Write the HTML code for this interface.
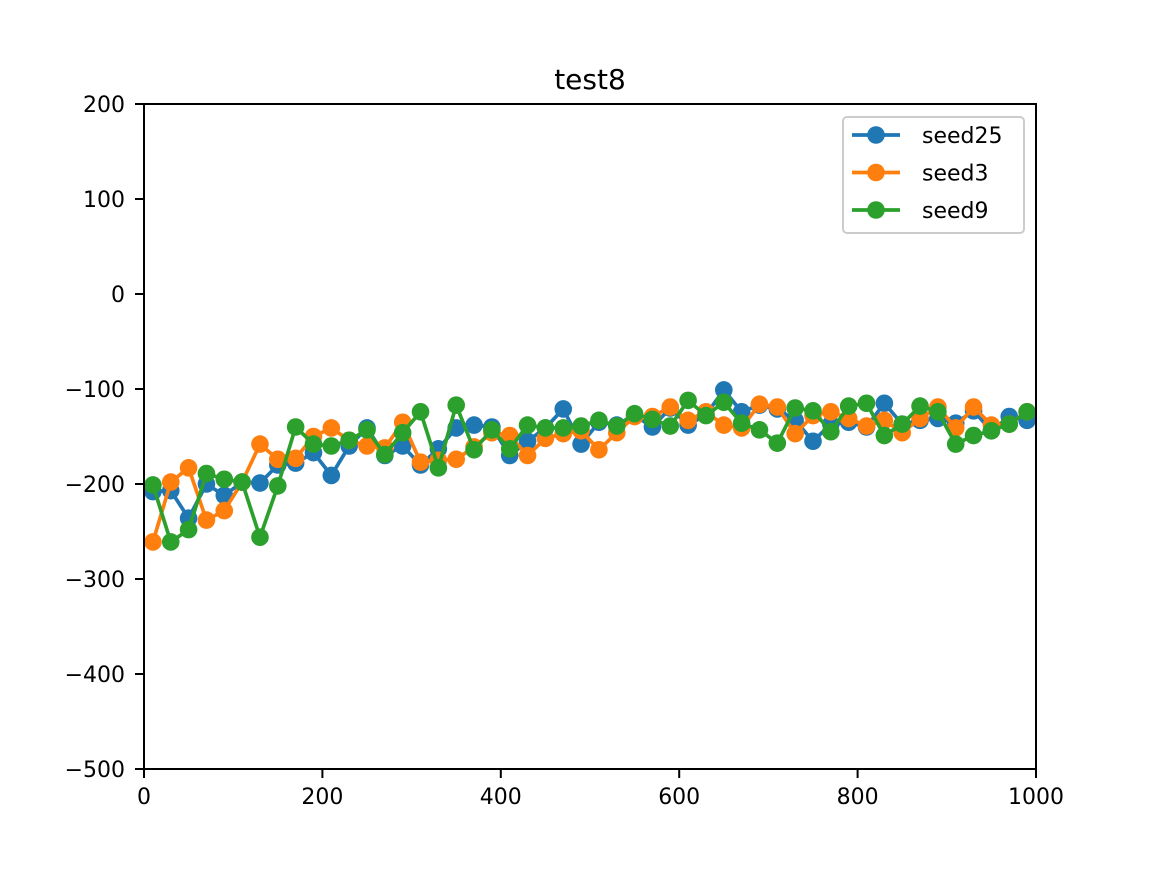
<!DOCTYPE html>
<html><head><meta charset="utf-8"><style>
body{margin:0;background:#fff;}
svg text{font-family:"DejaVu Sans","Liberation Sans",sans-serif;fill:#000;}
</style></head><body>
<svg id="chart" width="1152" height="864" xmlns="http://www.w3.org/2000/svg">
<rect width="1152" height="864" fill="#fff"/>
<text x="590" y="89" font-size="28" text-anchor="middle">test8</text>
<g id="series"></g>
<rect x="144" y="104" width="892" height="665" fill="none" stroke="#000" stroke-width="2"/>
<g id="axes"></g>
<g>
<rect x="843" y="117" width="181" height="116" rx="4" fill="#fff" fill-opacity="0.8" stroke="#ccc" stroke-width="2"/>
<g id="legend-items"></g>
</g>
</svg>
<script>
const xs=[10,30,50,70,90,110,130,150,170,190,210,230,250,270,290,310,330,350,370,390,410,430,450,470,490,510,530,550,570,590,610,630,650,670,690,710,730,750,770,790,810,830,850,870,890,910,930,950,970,990];
const seed25=[-208,-207,-236,-200,-212,-198,-199,-180,-178,-167,-191,-160,-141,-170,-160,-180,-163,-141,-138,-140,-170,-155,-141,-121,-158,-135,-138,-128,-140,-120,-138,-127,-101,-124,-117,-121,-133,-155,-137,-135,-140,-115,-137,-133,-131,-136,-123,-144,-129,-133];
const seed3=[-261,-198,-183,-238,-228,-198,-158,-174,-173,-150,-141,-154,-160,-162,-135,-177,-175,-174,-161,-146,-149,-170,-152,-147,-144,-164,-146,-129,-129,-119,-133,-124,-138,-141,-116,-119,-147,-128,-124,-131,-139,-133,-146,-131,-119,-141,-119,-138,-137,-124];
const seed9=[-201,-261,-248,-189,-195,-198,-256,-202,-140,-158,-160,-154,-143,-169,-146,-124,-183,-117,-164,-143,-163,-138,-141,-141,-139,-133,-139,-126,-132,-139,-112,-128,-114,-136,-143,-157,-120,-123,-145,-118,-115,-149,-137,-118,-124,-158,-149,-144,-137,-124];
const xTicks=[0,200,400,600,800,1000];
const yTicks=[200,100,0,-100,-200,-300,-400,-500];
const seriesNames=["seed25","seed3","seed9"];
const colors=["#1f77b4","#ff7f0e","#2ca02c"];
const NS="http://www.w3.org/2000/svg";
const X=v=>144+(v-0)/1000*892;
const Y=v=>104+(200-v)/700*665;
function mk(tag,attrs,parent){const e=document.createElementNS(NS,tag);for(const k in attrs)e.setAttribute(k,attrs[k]);parent.appendChild(e);return e;}
const axes=document.getElementById('axes');
xTicks.forEach(t=>{
  const l=mk('line',{x1:X(t),x2:X(t),y1:769,y2:778,stroke:'#000','stroke-width':2},axes);
  
  
  const tx=mk('text',{x:X(t),y:804,'font-size':22,'text-anchor':'middle'},axes);
  tx.textContent=t;
  
  
});
yTicks.forEach(t=>{
  const l=mk('line',{x1:135,x2:144,y1:Y(t),y2:Y(t),stroke:'#000','stroke-width':2},axes);
  
  
  const tx=mk('text',{x:125,y:Y(t)+8,'font-size':22,'text-anchor':'end'},axes);
  tx.textContent=t<0?'\u2212'+(-t):String(t);
  
  
});
const sg=document.getElementById('series');
[seed25,seed3,seed9].forEach((vals,i)=>{
  const g=mk('g',{},sg);
  
  
  const pts=vals.map((v,j)=>X(xs[j])+','+Y(v)).join(' ');
  mk('polyline',{points:pts,fill:'none',stroke:colors[i],'stroke-width':3.7,'stroke-linejoin':'round'},g);
  vals.forEach((v,j)=>{
    const c=mk('circle',{cx:X(xs[j]),cy:Y(v),r:8.8,fill:colors[i]},g);
    
    
  });
});
const lg=document.getElementById('legend-items');
seriesNames.forEach((n,i)=>{
  const y=135+i*37.5;
  const g=mk('g',{},lg);
  
  
  mk('line',{x1:852,x2:900,y1:y,y2:y,stroke:colors[i],'stroke-width':3.7},g);
  mk('circle',{cx:876,cy:y,r:8.8,fill:colors[i]},g);
  const t=mk('text',{x:922,y:y+8,'font-size':22},g);
  t.textContent=n;
});
</script>
</body></html>
